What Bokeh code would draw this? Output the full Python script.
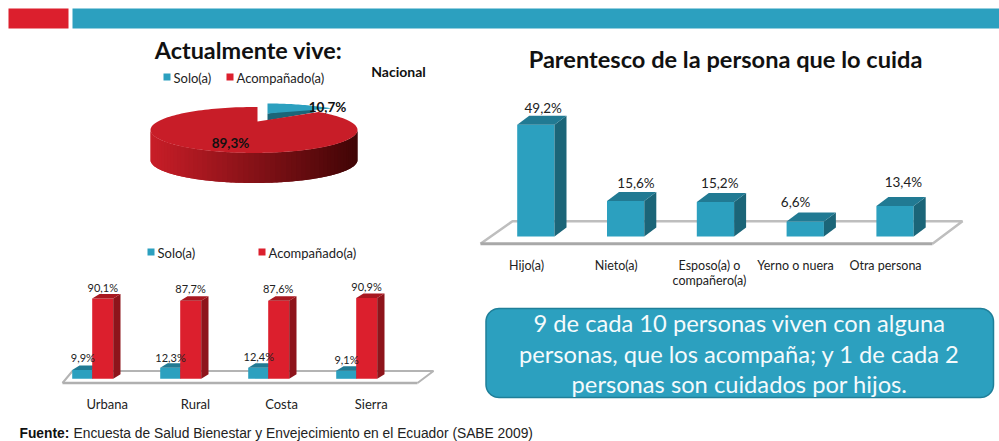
import numpy as np
from bokeh.plotting import figure
from bokeh.models import Range1d
from bokeh.core.properties import value
from bokeh.embed import file_html
from bokeh.resources import INLINE

# ---- data ----
pie_labels = ["Solo(a)", "Acompañado(a)"]
pie_values = [10.7, 89.3]
area_labels = ["Urbana", "Rural", "Costa", "Sierra"]
area_solo = [9.9, 12.3, 12.4, 9.1]
area_acomp = [90.1, 87.7, 87.6, 90.9]
care_labels = ["Hijo(a)", "Nieto(a)", "Esposo(a) o\ncompañero(a)", "Yerno o nuera", "Otra persona"]
care_values = [49.2, 15.6, 15.2, 6.6, 13.4]
callout_lines = ["9 de cada 10 personas viven con alguna",
                 "personas, que los acompaña; y 1 de cada 2",
                 "personas son cuidados por hijos."]

TEAL, TEAL_SIDE, TEAL_TOP = "#2CA0BF", "#1B6578", "#217A93"
RED, RED_SIDE, RED_TOP = "#DC1F2D", "#8E141B", "#A81820"
INK = "#222222"
FONT = "Lato"

W, H = 999, 441
LEFT, TOP = 0, 0
p = figure(width=W, height=H, output_backend="svg", toolbar_location=None,
           x_range=Range1d(LEFT, LEFT + W), y_range=Range1d(TOP + H, TOP),
           min_border=0, outline_line_color=None)
p.axis.visible = False
p.grid.visible = False


def txt(x, y, s, size, color=INK, bold=False, align="center", font=FONT, **kw):
    p.text([x], [y], text=[s], text_font=value(font), text_font_size=f"{size}px",
           text_color=color, text_font_style="bold" if bold else "normal",
           text_align=align, text_baseline="middle", **kw)


def add_scales(name, x0, px_x, y0, px_y):
    """Value scales for one chart: index -> pixel and percent -> pixel."""
    p.extra_x_ranges[name] = Range1d((LEFT - x0) / px_x, (LEFT + W - x0) / px_x)
    p.extra_y_ranges[name] = Range1d((y0 - TOP - H) / px_y, (y0 - TOP) / px_y)


def bars3d(name, xs, vals, width, dx, dy, front, side, top):
    kw = dict(x_range_name=name, y_range_name=name, line_color=None)
    p.quad(left=xs, right=xs + width, bottom=0, top=vals, fill_color=front, **kw)
    p.patches([[x + width, x + width + dx, x + width + dx, x + width] for x in xs],
              [[0, dy, v + dy, v] for v in vals], fill_color=side, **kw)
    p.patches([[x, x + dx, x + width + dx, x + width] for x in xs],
              [[v, v + dy, v + dy, v] for v in vals], fill_color=top, **kw)


def floor(xf0, xf1, xb0, xb1, yf, yb, w_back, w_front, c_back, c_front):
    p.patch([xf0, xf1, xb1, xb0], [yf, yf, yb, yb], fill_color="white", line_color=None)
    p.line([xf0, xb0, xb1, xf1], [yf, yb, yb, yf], line_color=c_back, line_width=w_back)
    p.line([xf0, xf1], [yf, yf], line_color=c_front, line_width=w_front)


# ---- header strip ----
p.quad(left=[8, 72], right=[68, 999], top=[8, 8], bottom=[28, 28],
       fill_color=[RED, TEAL], line_color=None)

# ---- pie ----
txt(248, 49, "Actualmente vive:", 23.4, color="#111111", bold=True)
txt(398, 71, "Nacional", 14, color="#111111", bold=True)
p.quad(left=[163, 226], right=[170, 233], top=[73, 73], bottom=[80, 80],
       fill_color=[TEAL, RED], line_color=None)
txt(173, 77, pie_labels[0], 13, align="left")
txt(236, 77, pie_labels[1], 13, align="left")

cx, cy, rx, ry, depth = 253.5, 129.5, 103.5, 23.0, 30.0
cut = pie_values[0] / sum(pie_values) * 2 * np.pi


def ell(t, ox=0.0, oy=0.0):
    return cx + ox + rx * np.sin(t), cy + oy - ry * np.cos(t)


# exploded small slice
t = np.linspace(0, cut, 30)
ex, ey = ell(t, 13.5, -3.5)
p.patch([267, 267, ex[-1] - 18, ex[-1] - 18], [113, 120, 112, 106], fill_color=TEAL_SIDE, line_color=None)
p.patch(np.r_[267, ex], np.r_[113, ey], fill_color=TEAL, line_color=None)

# side of the big slice, shaded left to right; each strip overlaps the next one
edges = np.linspace(3 * np.pi / 2, np.pi / 2, 61)
c0, c1 = np.array([0xC8, 0x1E, 0x28]), np.array([0x40, 0x05, 0x06])
xs_side, ys_side, cols = [], [], []
for i in range(len(edges) - 1):
    a, b = edges[i], edges[min(i + 2, len(edges) - 1)]
    tt = np.linspace(a, b, 6)
    xa, ya = ell(tt)
    f = (ell(edges[i])[0] - (cx - rx)) / (2 * rx)
    c = c0 * (1 - f) + c1 * f
    xs_side.append(np.r_[xa, xa[::-1]].tolist())
    ys_side.append(np.r_[ya, ya[::-1] + depth].tolist())
    cols.append("#%02x%02x%02x" % tuple(int(v) for v in c))
p.patches(xs_side, ys_side, fill_color=cols, line_color=None)

# top of the big slice
t = np.linspace(cut, 2 * np.pi, 160)
bx, by = ell(t)
p.patch(np.r_[257, bx, 257], np.r_[121, by, by[-1]], fill_color="#C81D28", line_color=None)

txt(327, 106, f"{pie_values[0]:.1f}%".replace(".", ","), 13.5, color="#111111", bold=True)
txt(230, 142, f"{pie_values[1]:.1f}%".replace(".", ","), 13.5, color="#111111", bold=True)

# ---- area chart ----
p.quad(left=[147, 258], right=[154, 265], top=[248, 248], bottom=[255, 255],
       fill_color=[TEAL, RED], line_color=None)
txt(157, 252, pie_labels[0], 13, align="left")
txt(268, 252, pie_labels[1], 13, align="left")

floor(62, 417, 72, 433, 382.5, 370.5, 2, 2.5, "#B4B4B4", "#B0B0B0")
add_scales("area", 91.7, 88.0, 378.3, 0.89)
ax = np.arange(len(area_labels), dtype=float)
a_dx, a_dy = 7.3 / 88.0, 4.5 / 0.89
bars3d("area", ax - 20 / 88.0, np.array(area_solo), 20 / 88.0, a_dx, a_dy, TEAL, TEAL_SIDE, TEAL_TOP)
bars3d("area", ax, np.array(area_acomp), 21 / 88.0, a_dx, a_dy, RED, RED_SIDE, RED_TOP)

red_off = [(10.6, 11.5), (10.3, 12.6), (10.0, 12.0), (10.3, 11.7)]
teal_off = [(-9.4, 12.2), (-9.7, 10.7), (-9.4, 11.6), (-9.7, 11.2)]
for i, name in enumerate(area_labels):
    for v, (ox, oy) in ((area_acomp[i], red_off[i]), (area_solo[i], teal_off[i])):
        p.text([i + ox / 88.0], [v + oy / 0.89], text=[f"{v:.1f}%".replace(".", ",")],
               x_range_name="area", y_range_name="area", text_font=value(FONT),
               text_font_size="11px", text_color=INK, text_align="center",
               text_baseline="middle")
for x, name in zip([106.7, 195, 281, 370.7], area_labels):
    txt(x, 403.5, name, 13)

# ---- carer chart ----
txt(725, 58, "Parentesco de la persona que lo cuida", 23.6, color="#111111", bold=True)
floor(480, 932, 512, 962, 243.3, 220.7, 2.5, 3, "#BEBEBE", "#A8A8A8")
add_scales("care", 516.7, 89.8, 236, 2.27)
cxs = np.arange(len(care_values), dtype=float)
bars3d("care", cxs, np.array(care_values), 37.3 / 89.8, 12 / 89.8, 9 / 2.27, TEAL, TEAL_SIDE, TEAL_TOP)
care_off = [(26, 17), (29, 18), (23, 19), (9, 20), (27, 24)]
for i, v in enumerate(care_values):
    ox, oy = care_off[i]
    p.text([i + ox / 89.8], [v + oy / 2.27], text=[f"{v:.1f}%".replace(".", ",")],
           x_range_name="care", y_range_name="care", text_font=value(FONT),
           text_font_size="13.5px", text_color=INK, text_align="center", text_baseline="middle")
for x, name in zip([526, 615.7, 709, 795, 885], care_labels):
    for j, line in enumerate(name.split("\n")):
        txt(x, 265 + j * 14.5, line, 12.5)

# ---- callout ----
bx0, bx1, by0, by1, r = 485.5, 993, 308, 397, 13
ang = np.linspace(0, np.pi / 2, 12)
rx_pts = np.r_[bx1 - r + r * np.sin(ang), bx1 - r + r * np.cos(ang),
               bx0 + r - r * np.sin(ang), bx0 + r - r * np.cos(ang)]
ry_pts = np.r_[by0 + r - r * np.cos(ang), by1 - r + r * np.sin(ang),
               by1 - r + r * np.cos(ang), by0 + r - r * np.sin(ang)]
p.patch(rx_pts, ry_pts, fill_color=TEAL, line_color="#1F7F99", line_width=1.5)
for y, line in zip([322, 353, 383.5], callout_lines):
    txt(739, y, line, 23.7, color="#F4FAFC")

# ---- source ----
txt(19, 432.5, "Fuente:", 13.8, color="#111111", bold=True, align="left", font="Liberation Sans")
txt(73, 432.5, "Encuesta de Salud Bienestar y Envejecimiento en el Ecuador (SABE 2009)", 13.8,
    color="#222222", align="left", font="Liberation Sans")

open("out.html", "w").write(file_html(p, INLINE))
